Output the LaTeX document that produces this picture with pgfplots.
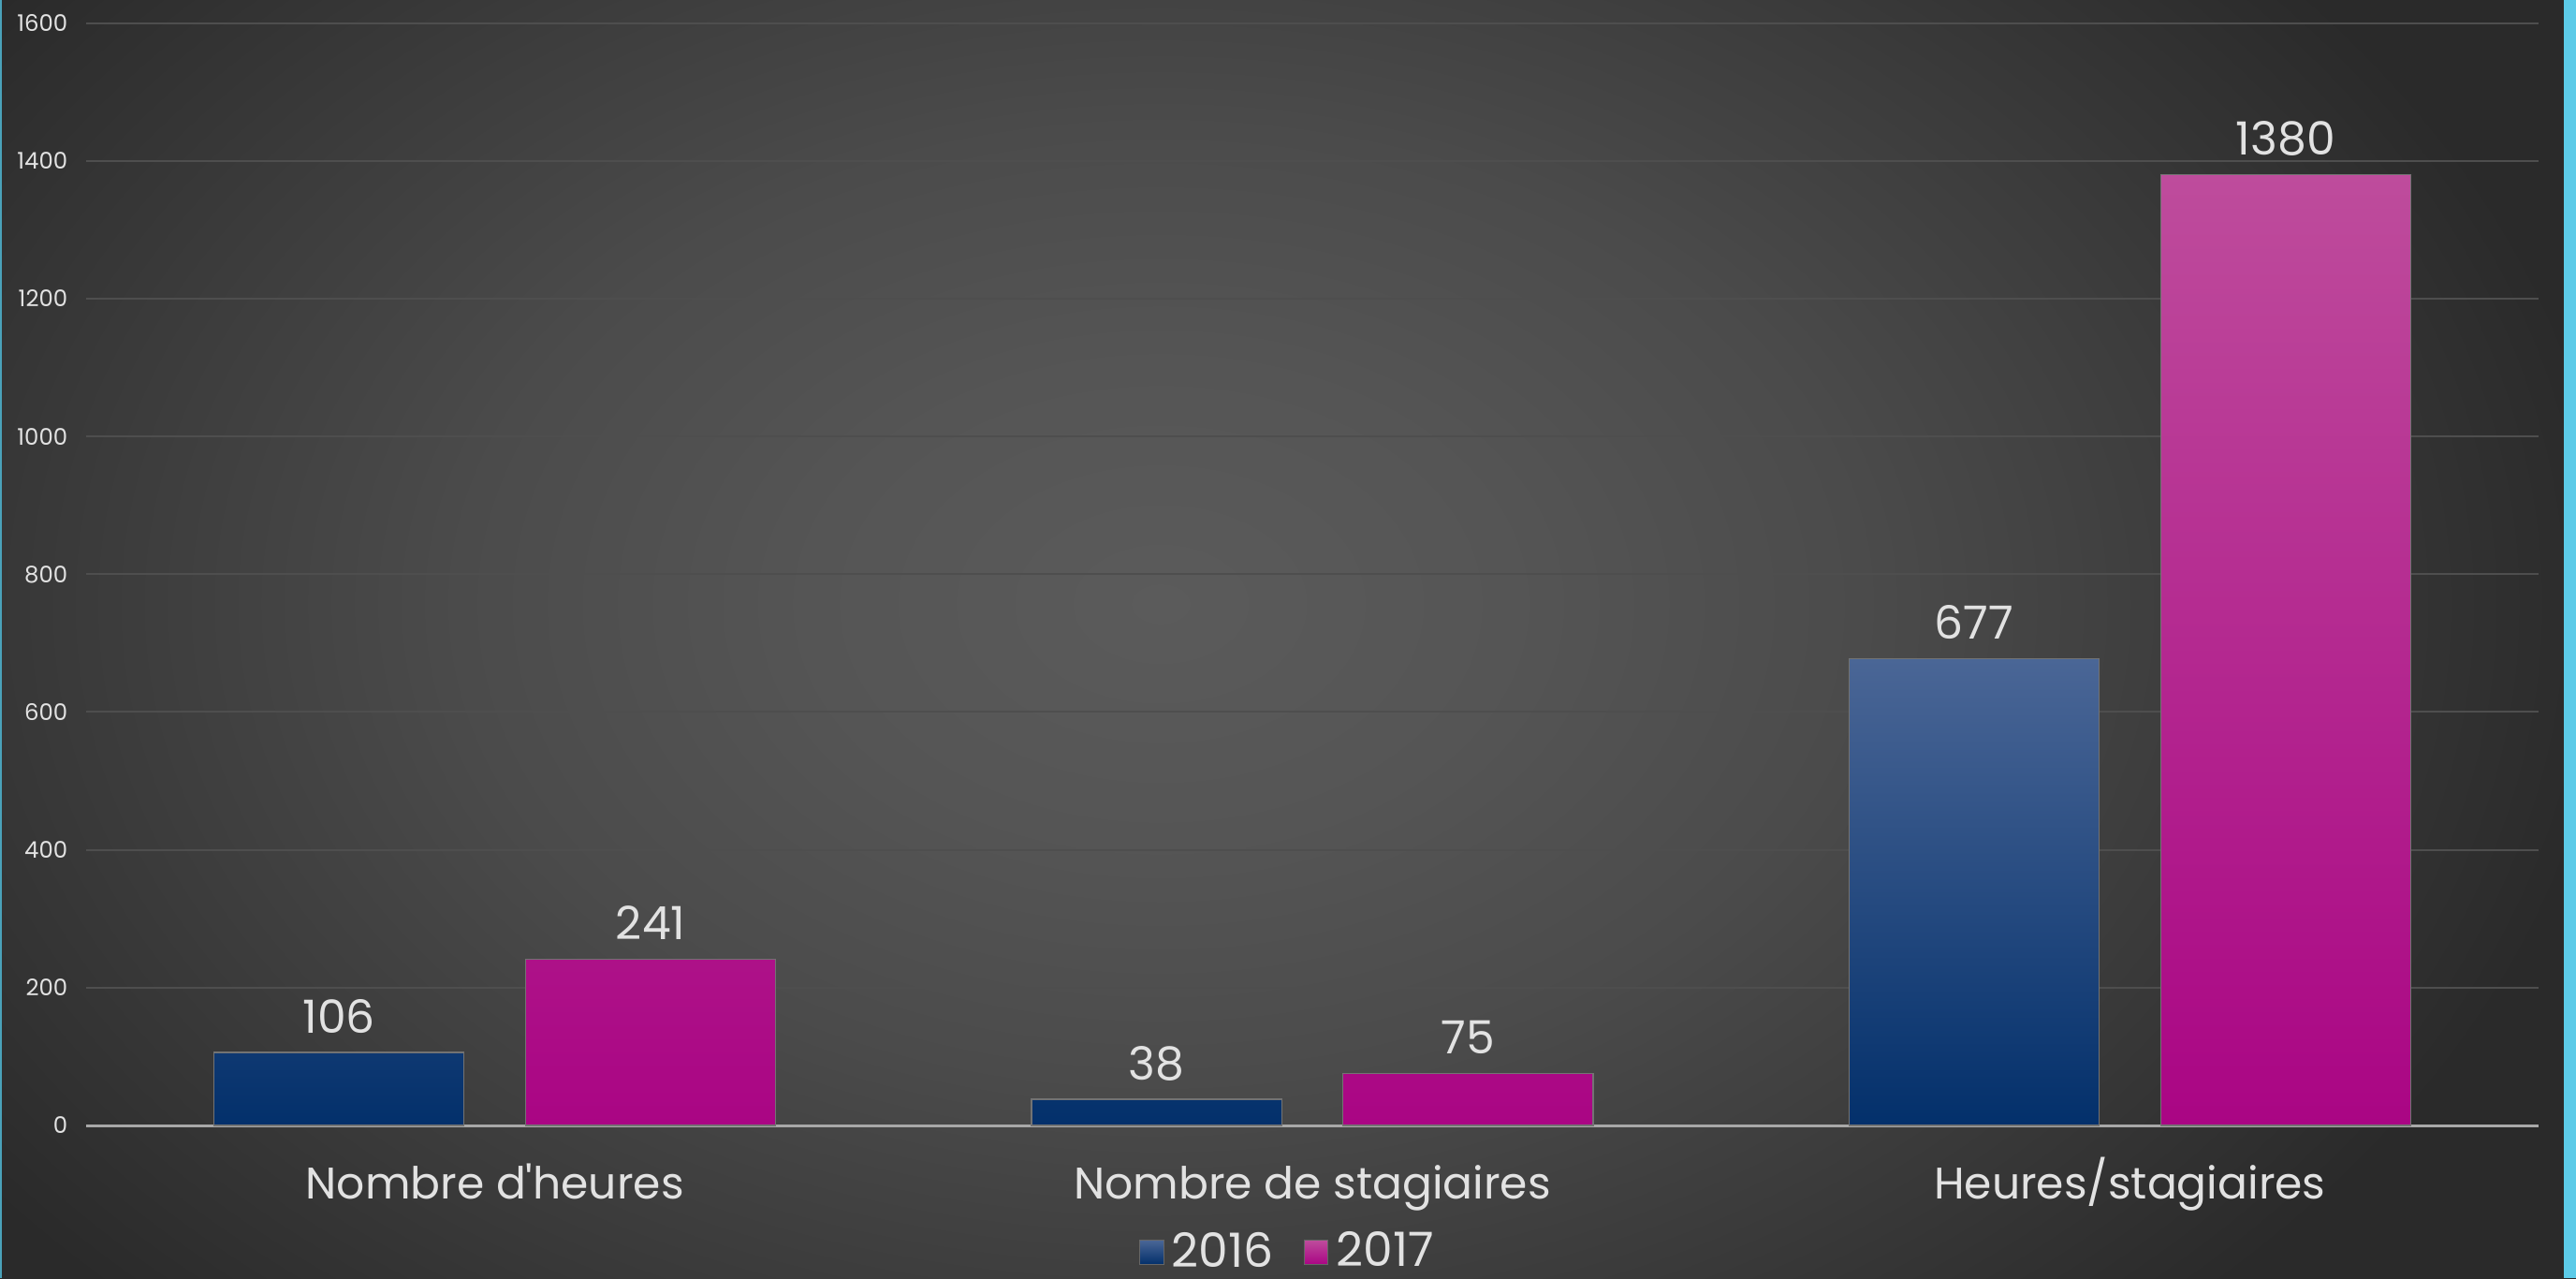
\documentclass[border=0pt]{standalone}
\usepackage{pgfplots}
\pgfplotsset{compat=1.18}
\usepackage{fontspec}
\setmainfont{Poppins}
\definecolor{bg0}{HTML}{5B5B5B}
\definecolor{bg1}{HTML}{555555}
\definecolor{bg2}{HTML}{4B4B4B}
\definecolor{bg3}{HTML}{3C3C3C}
\definecolor{bgout}{HTML}{2A2A2A}
\definecolor{gridc}{HTML}{4E4E4E}
\definecolor{axc}{HTML}{A8A8A8}
\definecolor{txt}{HTML}{E2E2E2}
\definecolor{cyanstrip}{HTML}{5CCBE8}
\definecolor{btop}{HTML}{4A6696}
\definecolor{bmid}{HTML}{0A3872}
\definecolor{bbot}{HTML}{03306B}
\definecolor{mtop}{HTML}{BE4C9C}
\definecolor{mmid}{HTML}{B8148F}
\definecolor{mbot}{HTML}{AA0584}
\pgfdeclareradialshading{bgshade}{\pgfpoint{0bp}{0bp}}{color(0bp)=(bg0); color(6bp)=(bg1); color(12bp)=(bg2); color(18bp)=(bg3); color(25bp)=(bgout); color(50bp)=(bgout)}
\begin{document}
\begin{tikzpicture}
\useasboundingbox (0,0) rectangle (688pt,341.25pt);
\begin{scope}
\clip (0,0) rectangle (688pt,341.25pt);
\fill[bgout] (0,0) rectangle (688pt,341.25pt);
\shade[shading=bgshade] (-80pt,-85pt) rectangle (700pt,445pt);
\fill[cyanstrip] (684.75pt,0) rectangle (688pt,341.25pt);
\fill[cyanstrip!80!black] (0,0) rectangle (0.5pt,341.25pt);
\end{scope}
\begin{axis}[
  at={(23pt,40.75pt)}, anchor=south west,
  scale only axis, width=655pt, height=294.35pt,
  xmin=-0.5, xmax=2.5, ymin=0, ymax=1600,
  ytick={0,200,...,1600},
  xtick={0,1,2},
  xticklabels={Nombre d\textquotesingle heures, Nombre de stagiaires, Heures/stagiaires},
  axis x line*=bottom, axis y line*=left,
  x axis line style={axc, line width=0.75pt, -},
  y axis line style={draw=none},
  major tick length=0pt,
  ymajorgrids, grid style={gridc, line width=0.5pt},
  /pgf/number format/assume math mode=true,
  /pgf/number format/1000 sep={},
  yticklabel style={font=\fontsize{6.1}{7}\selectfont, text=txt, anchor=east, inner sep=0pt, xshift=-4.75pt},
  xticklabel style={font=\fontsize{11.8}{14}\selectfont, text=txt, anchor=base, inner sep=0pt, yshift=-19.5pt},
  ybar, bar width=0.306,
  nodes near coords,
  every node near coord/.append style={font=\fontsize{12.2}{14}\selectfont, text=txt, anchor=base, inner sep=0pt, yshift=5.25pt},
  legend style={at={(0.491,-0.115)}, anchor=center, draw=none, fill=none, legend columns=2,
    font=\fontsize{12.6}{14}\selectfont, text=txt,
    /tikz/every even column/.append style={column sep=6pt}},
  legend image code/.code={\draw[#1, draw=black!60, line width=0.3pt] (0pt,-3.2pt) rectangle (6.4pt,3.2pt);},
]
\addplot[bar shift=-0.1906, top color=btop, middle color=bmid, bottom color=bbot, draw=black!55, line width=0.3pt]
  coordinates {(0,106) (1,38) (2,677)};
\addplot[bar shift=0.1906, top color=mtop, middle color=mmid, bottom color=mbot, draw=black!55, line width=0.3pt]
  coordinates {(0,241) (1,75) (2,1380)};
\legend{2016, 2017}
\end{axis}
\end{tikzpicture}
\end{document}
